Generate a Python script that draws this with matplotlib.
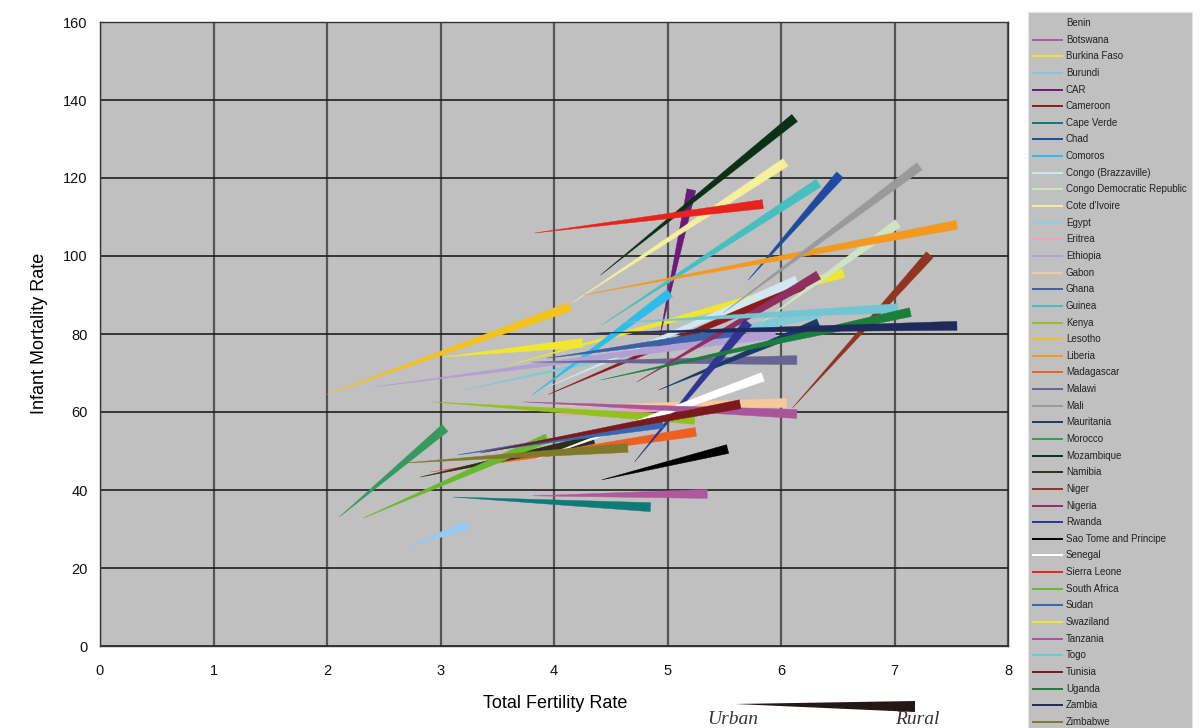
import numpy as np
import matplotlib.pyplot as plt
from matplotlib.patches import Polygon

plt.rcParams['font.family'] = ['Liberation Sans', 'DejaVu Sans']

countries = ['Benin', 'Botswana', 'Burkina Faso', 'Burundi', 'CAR', 'Cameroon', 'Cape Verde',
             'Chad', 'Comoros', 'Congo (Brazzaville)', 'Congo Democratic Republic', "Cote d'Ivoire",
             'Egypt', 'Eritrea', 'Ethiopia', 'Gabon', 'Ghana', 'Guinea', 'Kenya', 'Lesotho',
             'Liberia', 'Madagascar', 'Malawi', 'Mali', 'Mauritania', 'Morocco', 'Mozambique',
             'Namibia', 'Niger', 'Nigeria', 'Rwanda', 'Sao Tome and Principe', 'Senegal',
             'Sierra Leone', 'South Africa', 'Sudan', 'Swaziland', 'Tanzania', 'Togo', 'Tunisia',
             'Uganda', 'Zambia', 'Zimbabwe']
colors = ['#c0c0c0', '#b0589e', '#f0e62e', '#7fc9d8', '#6b1a7a', '#8b1c1c', '#0e7b78',
          '#1f4aa0', '#2ebdea', '#d0e8ee', '#cde5c3', '#f5f09a',
          '#9ac8ee', '#f0a0c0', '#b49fd4', '#f8c89a', '#3a60a8', '#45bfbf', '#93c01f', '#f3c21e',
          '#f39a1e', '#ee6020', '#676494', '#9a9a9a', '#1a3a6a', '#349a5e', '#0a3018',
          '#2e2e1a', '#8f3520', '#8e2f60', '#2e3592', '#000000', '#ffffff',
          '#e8221c', '#6ab82d', '#3a65b0', '#f0e830', '#a8559b', '#72c6d4', '#7a1a1e',
          '#1a7f3a', '#1f2a5a', '#7f7a2a']

# urban (thin end) and rural (thick end) values; Benin is not visible in the chart
urban_tfr = [np.nan, 3.81, 3.60, 3.20, 4.93, 3.95, 3.11,
             5.71, 3.81, 3.95, 5.83, 4.16,
             2.70, 4.00, 2.41, 4.00, 3.94, 4.42, 2.93, 2.00,
             4.26, 2.91, 3.80, 5.49, 4.92, 2.11, 4.41,
             2.82, 6.10, 4.73, 4.71, 4.42, 3.85,
             3.83, 2.32, 3.15, 3.02, 3.73, 4.60, 3.35,
             4.41, 4.30, 2.67]
urban_imr = [np.nan, 38.5, 72.0, 65.6, 79.0, 64.5, 38.2,
             93.8, 64.4, 66.5, 83.0, 88.0,
             25.4, 59.0, 66.4, 61.5, 73.8, 82.3, 62.6, 64.5,
             90.0, 44.6, 72.8, 85.4, 65.6, 33.1, 95.1,
             43.3, 61.0, 67.7, 47.2, 42.6, 48.0,
             105.9, 32.8, 49.0, 74.1, 62.6, 83.0, 49.5,
             68.2, 80.2, 46.9]
rural_tfr = [np.nan, 5.35, 6.55, 6.34, 5.21, 6.20, 4.85,
             6.52, 5.02, 6.14, 7.03, 6.04,
             3.24, 5.60, 5.95, 6.05, 5.60, 6.33, 5.24, 4.14,
             7.55, 5.25, 6.14, 7.22, 6.33, 3.04, 6.12,
             4.35, 7.31, 6.33, 5.71, 5.53, 5.84,
             5.84, 3.94, 4.96, 4.25, 6.14, 7.03, 5.64,
             7.14, 7.55, 4.65]
rural_imr = [np.nan, 39.0, 95.6, 85.4, 117.0, 92.5, 35.6,
             120.8, 90.5, 93.8, 108.4, 124.0,
             31.0, 62.0, 80.0, 62.3, 80.5, 118.7, 58.0, 87.0,
             108.0, 54.9, 73.3, 123.0, 82.8, 55.9, 135.4,
             53.0, 100.3, 95.1, 83.0, 50.5, 69.0,
             113.3, 53.3, 57.0, 77.7, 59.5, 86.6, 62.0,
             85.6, 82.1, 50.8]

W, H = 1202, 728
fig = plt.figure(figsize=(W / 100, H / 100), dpi=100)
ax = fig.add_axes([100 / W, 1 - 646 / H, 908 / W, 624 / H])
ax.set_facecolor('#c0c0c0')
ax.set_xlim(0, 8)
ax.set_ylim(0, 160)
ax.set_xticks(range(0, 9))
ax.set_yticks(range(0, 161, 20))
ax.xaxis.grid(True, color='#555555', lw=1.6)
ax.yaxis.grid(True, color='#1e1e1e', lw=1.2)
ax.set_axisbelow(True)
ax.tick_params(length=0, labelsize=10.5, colors='#111111')
ax.tick_params(axis='x', pad=13)
ax.tick_params(axis='y', pad=9)
for s in ax.spines.values():
    s.set_color('#333333')
    s.set_linewidth(1.0)

# wedges: point at urban value, flat end (9 px wide) at rural value
half = 4.5
inv = ax.transData.inverted()
for c, ut, ui, rt, ri in zip(colors, urban_tfr, urban_imr, rural_tfr, rural_imr):
    if np.isnan(ut):
        continue
    p0 = ax.transData.transform((ut, ui))
    p1 = ax.transData.transform((rt, ri))
    d = (p1 - p0) / np.hypot(*(p1 - p0))
    n = np.array([-d[1], d[0]])
    pts = inv.transform([p0, p1 + n * half, p1 - n * half])
    ax.add_patch(Polygon(pts, closed=True, fc=c, ec=c, lw=0.3, zorder=2))

fig.text(555 / W, 1 - 703 / H, 'Total Fertility Rate', ha='center', va='center', fontsize=13)
fig.text(40 / W, 1 - 333 / H, 'Infant Mortality Rate', ha='center', va='center',
         rotation=90, fontsize=13)

# legend panel
lax = fig.add_axes([1028 / W, 0, 164 / W, (728 - 12) / H])
lax.set_facecolor('#c0c0c0')
lax.set_xlim(0, 164)
lax.set_ylim(716, 0)
lax.set_xticks([])
lax.set_yticks([])
for s in lax.spines.values():
    s.set_color('#e4e4e4')
lax.spines['bottom'].set_visible(False)
for i, (name, c) in enumerate(zip(countries, colors)):
    y = 11 + i * 16.64
    lax.plot([4, 35], [y, y], color=c, lw=1.4, solid_capstyle='butt')
    lax.text(38, y, name, va='center', ha='left', fontsize=7, color='#222222')

# urban -> rural key
key = Polygon([(735 / W, 1 - 704 / H), (915 / W, 1 - 701 / H), (915 / W, 1 - 712 / H)],
              closed=True, fc='#231815', ec='none', transform=fig.transFigure)
fig.add_artist(key)
fig.text(733 / W, 1 - 719 / H, 'Urban', ha='center', va='center', fontsize=14,
         family='Liberation Serif', style='italic', color='#3a3232')
fig.text(917 / W, 1 - 719 / H, 'Rural', ha='center', va='center', fontsize=14,
         family='Liberation Serif', style='italic', color='#3a3232')

fig.savefig('out.png', dpi=100, facecolor='white')
